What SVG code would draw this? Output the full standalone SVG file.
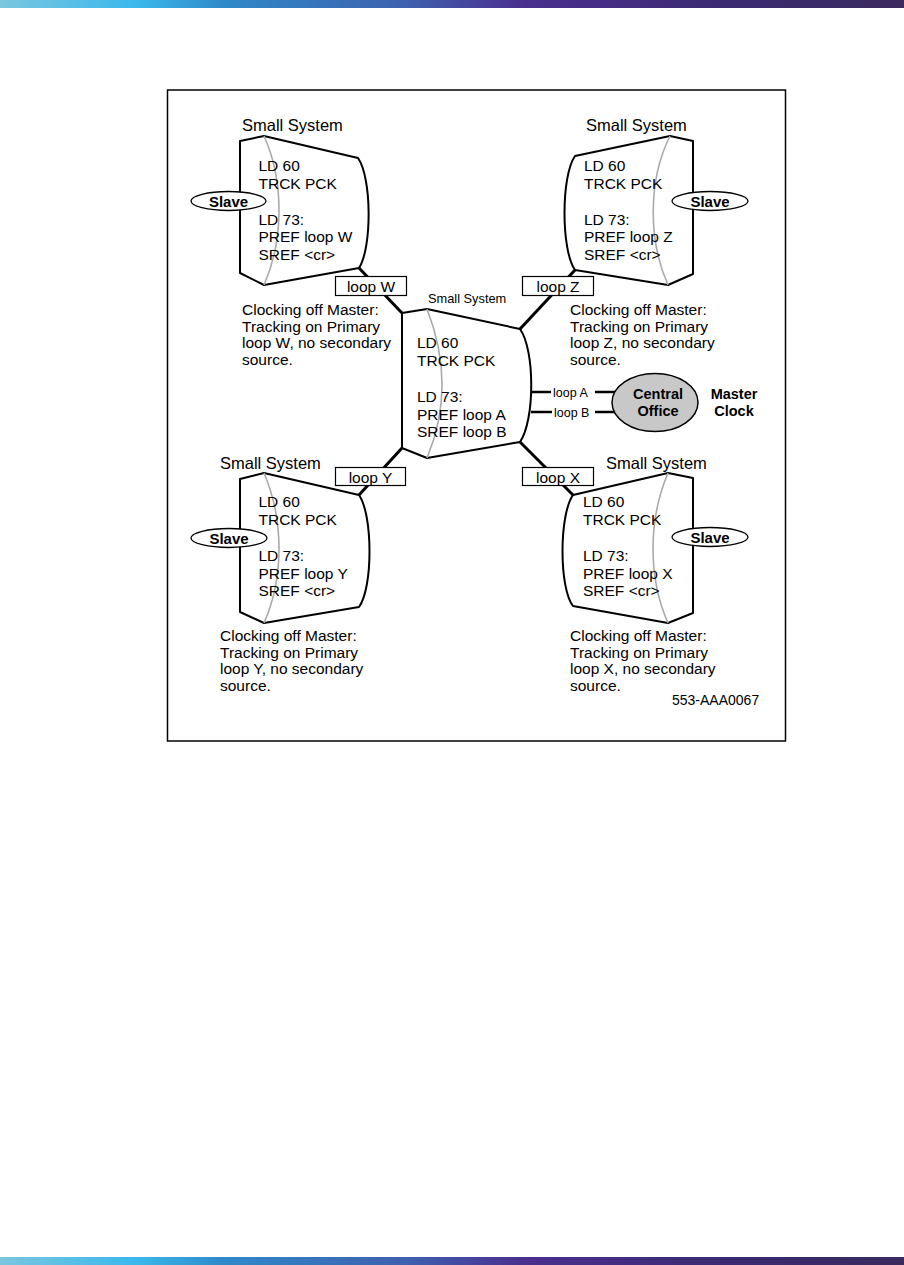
<svg xmlns="http://www.w3.org/2000/svg" width="904" height="1265" viewBox="0 0 904 1265">
<defs>
<linearGradient id="bar" x1="0" y1="0" x2="1" y2="0">
<stop offset="0" stop-color="#7ac6df"/>
<stop offset="0.15" stop-color="#3ab8ec"/>
<stop offset="0.25" stop-color="#2f88c8"/>
<stop offset="0.45" stop-color="#3f60ae"/>
<stop offset="0.58" stop-color="#4a2f8f"/>
<stop offset="0.8" stop-color="#3b2a72"/>
<stop offset="1" stop-color="#3a2a5e"/>
</linearGradient>
<style>
.t{font-family:"Liberation Sans",Arial,sans-serif;font-size:15.5px;fill:#000}
.b{font-family:"Liberation Sans",Arial,sans-serif;font-size:15px;font-weight:bold;fill:#000}
.s{font-family:"Liberation Sans",Arial,sans-serif;font-size:12.5px;fill:#000}
.node{fill:#fff;stroke:#000;stroke-width:2;stroke-linejoin:round}
.arc{fill:none;stroke:#aaa;stroke-width:1.6}
.ell{fill:#fff;stroke:#000;stroke-width:1.3}
.box{fill:#fff;stroke:#000;stroke-width:1.2}
.con{stroke:#000;stroke-width:3;fill:none}
.lk{stroke:#000;stroke-width:2.5;fill:none}
</style>
</defs>
<rect x="0" y="0" width="904" height="8" fill="url(#bar)"/>
<rect x="0" y="1257" width="904" height="8" fill="url(#bar)"/>
<rect x="167.5" y="90" width="618" height="651" fill="none" stroke="#000" stroke-width="1.5"/>

<g id="connectors">
<line class="con" x1="359" y1="268" x2="402" y2="313"/>
<line class="con" x1="575" y1="270" x2="520" y2="329"/>
<line class="con" x1="359" y1="495" x2="402" y2="448"/>
<line class="con" x1="520" y1="442" x2="573" y2="495"/>
<line class="lk" x1="531" y1="392" x2="551" y2="392"/>
<line class="lk" x1="595" y1="392" x2="618" y2="392"/>
<line class="lk" x1="531" y1="412" x2="552" y2="412"/>
<line class="lk" x1="595" y1="412" x2="618" y2="412"/>
<text class="s" x="553" y="396.5">loop A</text>
<text class="s" x="554" y="416.5">loop B</text>
<g id="boxW"><rect class="box" x="335.5" y="276.5" width="71" height="19"/><text class="t" x="371" y="292" text-anchor="middle">loop W</text></g>
<g id="boxZ"><rect class="box" x="522.5" y="276.5" width="71" height="19"/><text class="t" x="558" y="292" text-anchor="middle">loop Z</text></g>
<g id="boxY"><rect class="box" x="335.5" y="467.5" width="70" height="18"/><text class="t" x="370.5" y="482.5" text-anchor="middle">loop Y</text></g>
<g id="boxX"><rect class="box" x="522.5" y="467.5" width="71" height="18"/><text class="t" x="558" y="482.5" text-anchor="middle">loop X</text></g>
</g>

<g id="node-w">
<text class="t" x="242" y="131" style="font-size:16.5px">Small System</text>
<path class="node" d="M240,141 L264,136 L358,158 C372,178 372,248 359,268 L264,285 L240,273 Z"/>
<path class="arc" d="M264,136 C284,180 284,240 264,285"/>
<text class="t" x="258.5" y="171">LD 60</text>
<text class="t" x="258.5" y="188.5">TRCK PCK</text>
<text class="t" x="258.5" y="224.5">LD 73:</text>
<text class="t" x="258.5" y="242">PREF loop W</text>
<text class="t" x="258.5" y="259.5">SREF &lt;cr&gt;</text>
<ellipse class="ell" cx="228.5" cy="201" rx="37.5" ry="9.5"/>
<text class="b" x="228.5" y="206.5" text-anchor="middle">Slave</text>
<text class="t" x="242" y="315">Clocking off Master:</text>
<text class="t" x="242" y="331.5">Tracking on Primary</text>
<text class="t" x="242" y="348">loop W, no secondary</text>
<text class="t" x="242" y="364.5">source.</text>
</g>

<g id="node-z">
<text class="t" x="586" y="131" style="font-size:16.5px">Small System</text>
<path class="node" d="M693,141 L670,136 L575,156 C561,176 561,250 575,270 L668,285 L693,274 Z"/>
<path class="arc" d="M670,136 C648,180 648,240 668,285"/>
<text class="t" x="584" y="171">LD 60</text>
<text class="t" x="584" y="188.5">TRCK PCK</text>
<text class="t" x="584" y="224.5">LD 73:</text>
<text class="t" x="584" y="242">PREF loop Z</text>
<text class="t" x="584" y="259.5">SREF &lt;cr&gt;</text>
<ellipse class="ell" cx="710" cy="201" rx="38" ry="9.5"/>
<text class="b" x="710" y="206.5" text-anchor="middle">Slave</text>
<text class="t" x="570" y="315">Clocking off Master:</text>
<text class="t" x="570" y="331.5">Tracking on Primary</text>
<text class="t" x="570" y="348">loop Z, no secondary</text>
<text class="t" x="570" y="364.5">source.</text>
</g>

<g id="node-central">
<text class="t" x="428" y="303" style="font-size:12.8px">Small System</text>
<path class="node" d="M402,313 L427,309 L520,329 C535,350 535,420 520,442 L427,458 L402,448 Z"/>
<path class="arc" d="M427,309 C447,360 447,410 427,458"/>
<text class="t" x="417" y="348">LD 60</text>
<text class="t" x="417" y="365.5">TRCK PCK</text>
<text class="t" x="417" y="402">LD 73:</text>
<text class="t" x="417" y="419.5">PREF loop A</text>
<text class="t" x="417" y="437">SREF loop B</text>
</g>

<g id="node-co">
<ellipse cx="655" cy="402.5" rx="43" ry="29" fill="#c8c8c8" stroke="#000" stroke-width="1.5"/>
<text class="b" x="658" y="399" text-anchor="middle" style="font-size:14.5px">Central</text>
<text class="b" x="658" y="416" text-anchor="middle" style="font-size:14.5px">Office</text>
<text class="b" x="734" y="399" text-anchor="middle" style="font-size:14.5px">Master</text>
<text class="b" x="734" y="416" text-anchor="middle" style="font-size:14.5px">Clock</text>
</g>

<g id="node-y">
<text class="t" x="220" y="469" style="font-size:16.5px">Small System</text>
<path class="node" d="M240,479 L264,473 L359,495 C373,515 373,588 359,607 L264,623 L240,612 Z"/>
<path class="arc" d="M264,473 C284,520 284,578 264,623"/>
<text class="t" x="258.5" y="507">LD 60</text>
<text class="t" x="258.5" y="524.5">TRCK PCK</text>
<text class="t" x="258.5" y="561">LD 73:</text>
<text class="t" x="258.5" y="578.5">PREF loop Y</text>
<text class="t" x="258.5" y="596">SREF &lt;cr&gt;</text>
<ellipse class="ell" cx="229" cy="538" rx="38" ry="9.5"/>
<text class="b" x="229" y="543.5" text-anchor="middle">Slave</text>
<text class="t" x="220" y="641">Clocking off Master:</text>
<text class="t" x="220" y="657.5">Tracking on Primary</text>
<text class="t" x="220" y="674">loop Y, no secondary</text>
<text class="t" x="220" y="690.5">source.</text>
</g>

<g id="node-x">
<text class="t" x="606" y="469" style="font-size:16.5px">Small System</text>
<path class="node" d="M693,478 L668,473 L573,495 C559,515 559,588 573,606 L668,623 L693,613 Z"/>
<path class="arc" d="M668,473 C648,520 648,578 668,623"/>
<text class="t" x="583" y="507">LD 60</text>
<text class="t" x="583" y="524.5">TRCK PCK</text>
<text class="t" x="583" y="561">LD 73:</text>
<text class="t" x="583" y="578.5">PREF loop X</text>
<text class="t" x="583" y="596">SREF &lt;cr&gt;</text>
<ellipse class="ell" cx="710" cy="537" rx="38" ry="9.5"/>
<text class="b" x="710" y="542.5" text-anchor="middle">Slave</text>
<text class="t" x="570" y="641">Clocking off Master:</text>
<text class="t" x="570" y="657.5">Tracking on Primary</text>
<text class="t" x="570" y="674">loop X, no secondary</text>
<text class="t" x="570" y="690.5">source.</text>
</g>

<text class="t" x="672" y="705" style="font-size:14px">553-AAA0067</text>
</svg>
